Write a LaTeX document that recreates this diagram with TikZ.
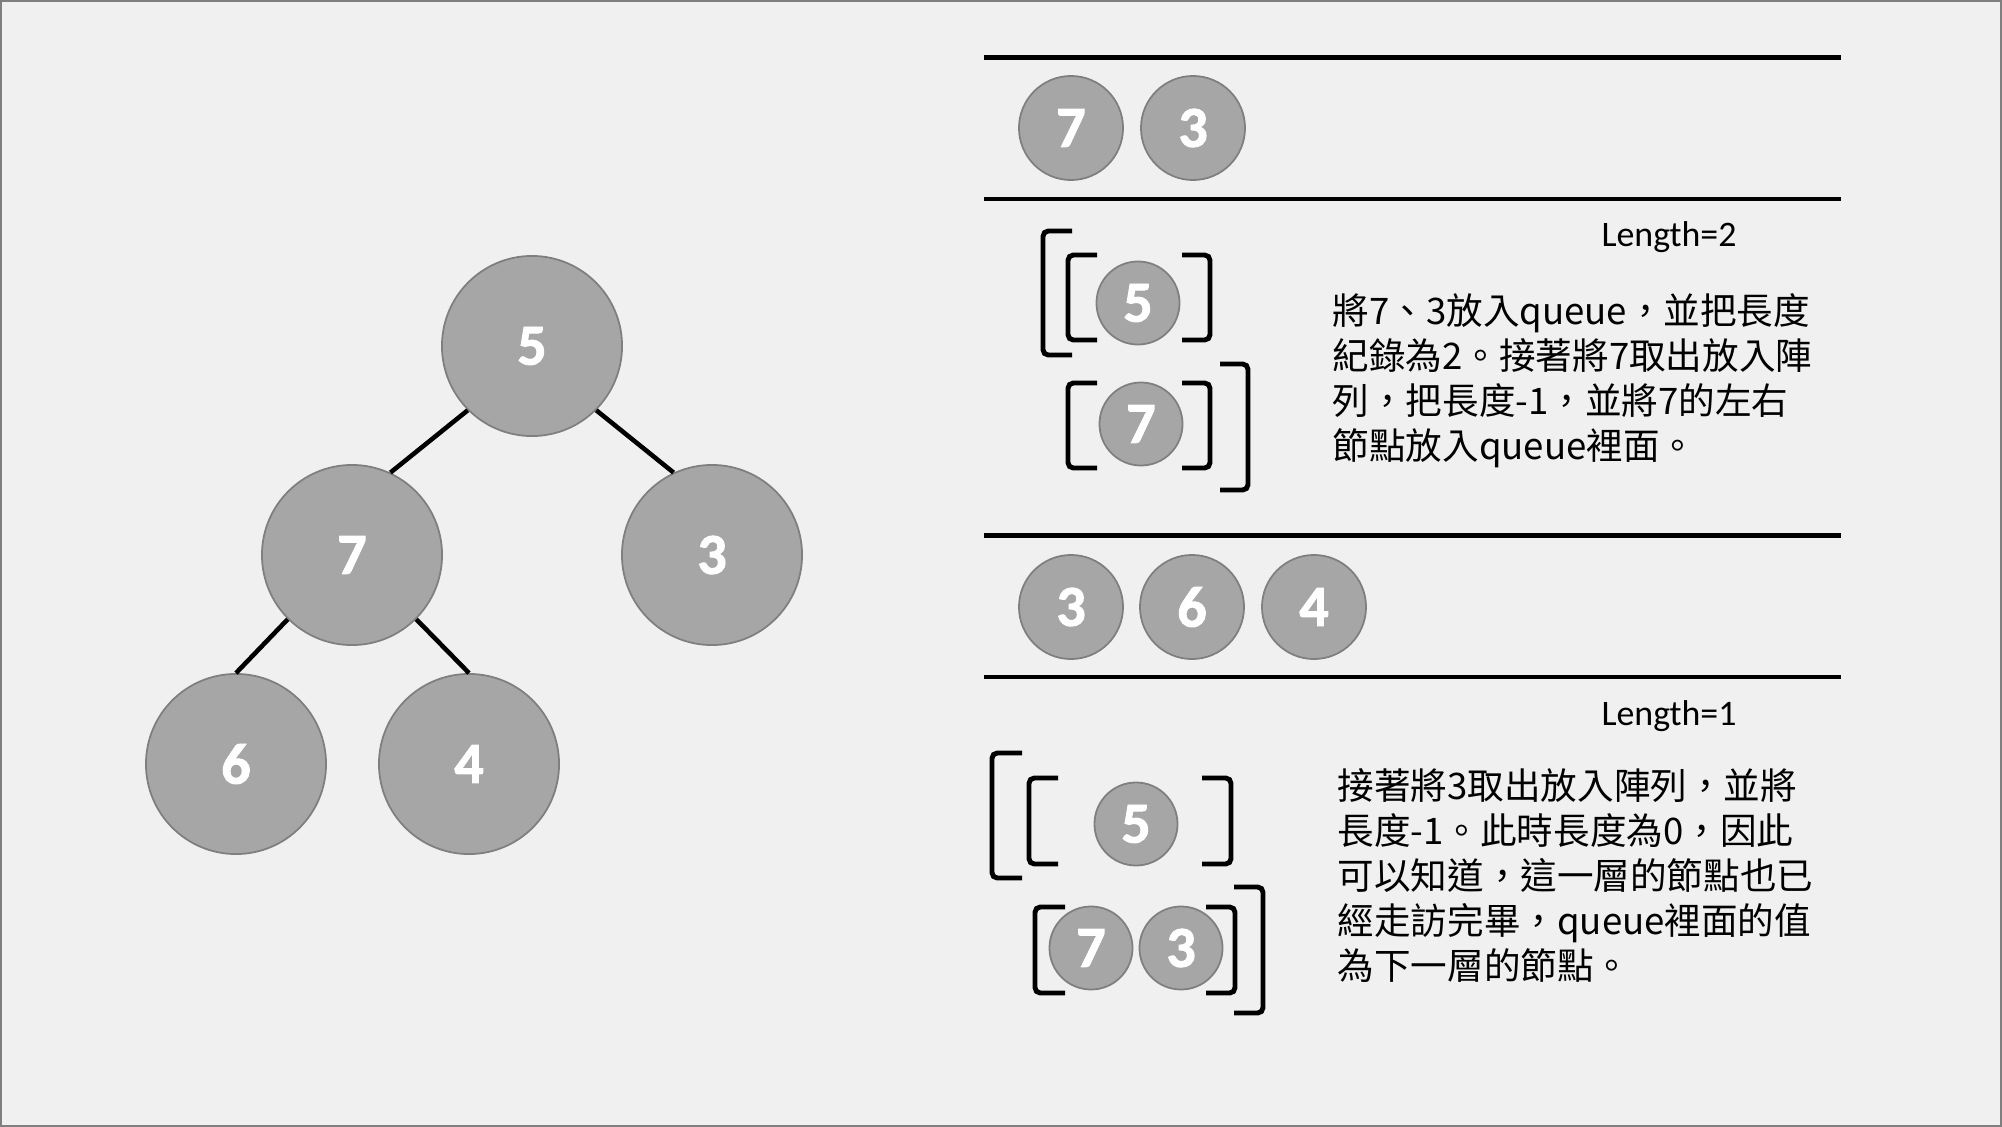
\documentclass[tikz,border=0pt]{standalone}
\usepackage{fontspec}
\setmainfont{Carlito}
\newfontfamily\cifra{Carlito}[FakeBold=1.6]
\newfontfamily\cjk{Noto Sans CJK TC}
\definecolor{nodo}{HTML}{A6A6A6}
\definecolor{borde}{HTML}{7F7F7F}
\definecolor{fondo}{HTML}{F0F0F0}
\tikzset{
  arbol/.style={circle, minimum size=1.8cm, inner sep=0pt, fill=nodo, draw=borde, line width=0.5pt, text=white, font=\cifra\bfseries\fontsize{16.5}{18}\selectfont},
  cola/.style={arbol, minimum size=1.04cm},
  chico/.style={arbol, minimum size=0.83cm},
  rama/.style={line width=1.3pt},
  barra/.style={line width=1.4pt},
  corchete/.style={line width=1.4pt, rounded corners=1.5pt},
  parrafo/.style={anchor=north west, align=left, inner sep=0pt, font=\cjk\fontsize{10.4}{12.8}\selectfont},
  largo/.style={inner sep=0pt, font=\fontsize{10.2}{12}\selectfont},
}
\begin{document}
\begin{tikzpicture}[x=0.01cm, y=-0.01cm]
  \useasboundingbox (0,0) rectangle (2002,1127);
  % Fondo
  \draw[fill=fondo, draw=borde, line width=0.6pt] (1,1) rectangle (2001,1126);

  % Árbol
  \node[arbol] (a5) at (532,346) {5};
  \node[arbol] (a7) at (352,555) {7};
  \node[arbol] (a3) at (712,555) {3};
  \node[arbol] (a6) at (236,764) {6};
  \node[arbol] (a4) at (469,764) {4};
  \draw[rama] (a5.south west) -- (a7.65);
  \draw[rama] (a5.south east) -- (a3.115);
  \draw[rama] (a7.south west) -- (a6.north);
  \draw[rama] (a7.south east) -- (a4.north);

  % Cola con 7 y 3
  \draw[barra] (984,57.5) -- (1841,57.5);
  \draw[barra] (984,199) -- (1841,199);
  \node[cola] (q7) at (1071,128) {7};
  \node[cola] (q3) at (1193,128) {3};

  % Arreglo después de sacar el 7
  \node[chico] (b5) at (1138,303) {5};
  \node[chico] (b7) at (1141,424) {7};
  \draw[corchete] (1072,231) -- (1043,231) -- (1043,355) -- (1072,355);
  \draw[corchete] (1097,255) -- (1068,255) -- (1068,340) -- (1097,340);
  \draw[corchete] (1182,255) -- (1210,255) -- (1210,340) -- (1182,340);
  \draw[corchete] (1097,383) -- (1068,383) -- (1068,468) -- (1097,468);
  \draw[corchete] (1182,383) -- (1210,383) -- (1210,468) -- (1182,468);
  \draw[corchete] (1220,364) -- (1248,364) -- (1248,490) -- (1220,490);

  % Texto, paso 1
  \node[largo] (largo1) at (1669,237) {Length=2};
  \node[parrafo] (texto1) at (1332,293) {將7、3放入queue，並把長度\\紀錄為2。接著將7取出放入陣\\列，把長度-1，並將7的左右\\節點放入queue裡面。};

  % Cola con 3, 6 y 4
  \draw[barra] (984,535.5) -- (1841,535.5);
  \draw[barra] (984,677) -- (1841,677);
  \node[cola] (q3b) at (1071,607) {3};
  \node[cola] (q6) at (1192,607) {6};
  \node[cola] (q4) at (1314,607) {4};

  % Arreglo después de sacar el 3
  \node[chico] (c5) at (1136,824) {5};
  \node[chico] (c7) at (1091,948) {7};
  \node[chico] (c3) at (1181,948) {3};
  \draw[corchete] (1022,753) -- (992,753) -- (992,878) -- (1022,878);
  \draw[corchete] (1058,778) -- (1029,778) -- (1029,864) -- (1058,864);
  \draw[corchete] (1202,778) -- (1231,778) -- (1231,864) -- (1202,864);
  \draw[corchete] (1065,907) -- (1035,907) -- (1035,993) -- (1065,993);
  \draw[corchete] (1206,907) -- (1235,907) -- (1235,993) -- (1206,993);
  \draw[corchete] (1234,887) -- (1263,887) -- (1263,1013) -- (1234,1013);

  % Texto, paso 2
  \node[largo] (largo2) at (1669,716) {Length=1};
  \node[parrafo] (texto2) at (1337,768) {接著將3取出放入陣列，並將\\長度-1。此時長度為0，因此\\可以知道，這一層的節點也已\\經走訪完畢，queue裡面的值\\為下一層的節點。};

\end{tikzpicture}
\end{document}
